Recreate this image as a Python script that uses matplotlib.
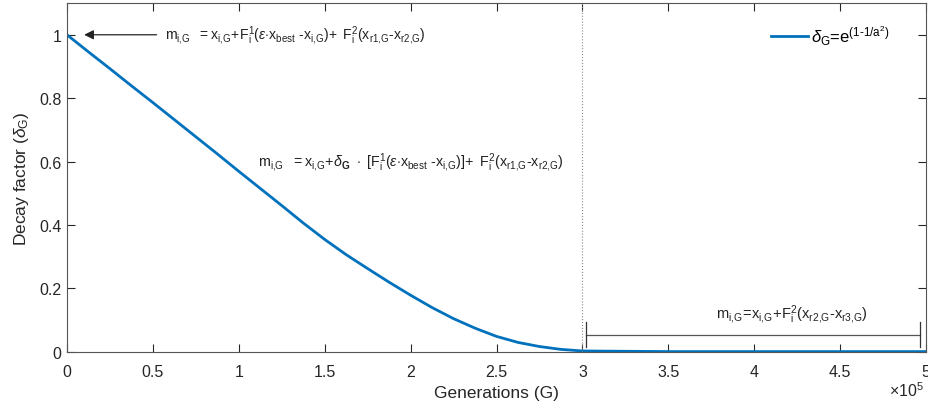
import numpy as np
import matplotlib.pyplot as plt

plt.rcParams['font.family'] = ['Liberation Sans', 'DejaVu Sans']
plt.rcParams['mathtext.fontset'] = 'custom'
plt.rcParams['mathtext.rm'] = 'Liberation Sans'
plt.rcParams['mathtext.it'] = 'Liberation Sans:italic'
plt.rcParams['mathtext.bf'] = 'Liberation Sans:bold'

# Data (generations in units of 1e5)
gen = [0, 0.125, 0.25, 0.375, 0.5, 0.625, 0.75, 0.875, 1.0, 1.125, 1.25, 1.375,
       1.5, 1.625, 1.75, 1.875, 2.0, 2.125, 2.25, 2.375, 2.5, 2.625, 2.75, 2.875,
       3.0, 3.5, 4.0, 4.5, 5.0]
decay = [1.0, 0.946, 0.893, 0.839, 0.786, 0.732, 0.678, 0.624, 0.569, 0.515, 0.461, 0.406,
         0.354, 0.306, 0.262, 0.219, 0.178, 0.139, 0.104, 0.074, 0.048, 0.029, 0.016, 0.007,
         0.002, 0.0, 0.0, 0.0, 0.0]
switch_gen = 3.0
xticks = [0, 0.5, 1, 1.5, 2, 2.5, 3, 3.5, 4, 4.5, 5]
xticklabels = ['0', '0.5', '1', '1.5', '2', '2.5', '3', '3.5', '4', '4.5', '5']
yticks = [0, 0.2, 0.4, 0.6, 0.8, 1]
yticklabels = ['0', '0.2', '0.4', '0.6', '0.8', '1']

fig = plt.figure(figsize=(9.29, 4.10), dpi=100)
ax = fig.add_axes([0.0721, 0.140, 0.9247, 0.850])

ax.plot(gen, decay, color='#0072BD', lw=2.0,
        label=r'$\delta_{\mathrm{G}}$=e$^{\mathrm{(1\text{-}1/a^2)}}$')
ax.axvline(switch_gen, color='#888888', lw=0.8, ls=':')

ax.set_xlim(0, 5)
ax.set_ylim(0, 1.1)
ax.set_xticks(xticks)
ax.set_xticklabels(xticklabels)
ax.set_yticks(yticks)
ax.set_yticklabels(yticklabels)
ax.tick_params(direction='in', top=True, right=True, length=6, width=0.8,
               labelsize=11.5, colors='#262626')
ax.tick_params(axis='x', pad=9)
ax.tick_params(axis='y', pad=4)
for s in ax.spines.values():
    s.set_color('#555555')
    s.set_linewidth(0.8)

ax.set_xlabel('Generations (G)', fontsize=12.5, color='#262626', labelpad=4)
ax.set_ylabel(r'Decay factor ($\delta_{\mathrm{G}}$)', fontsize=12.5, color='#262626', labelpad=6)
fig.text(0.995, 0.048, r'$\times\mathrm{10^5}$', fontsize=11.5, color='#262626',
         ha='right', va='center')

# annotations
eq1 = (r'$\mathrm{m_{i{,}G}\ \ = x_{i{,}G}\!+\!F_i^1(}\epsilon\mathrm{\cdot x_{best}\ \text{-}x_{i{,}G})\!+\ '
       r'F_i^2(x_{r1{,}G}\text{-}x_{r2{,}G})}$')
eq2 = (r'$\mathrm{m_{i{,}G}\ \ = x_{i{,}G}\!+\!}\delta_{\mathbf{G}}\mathrm{\ \cdot\ [F_i^1(}\epsilon'
       r'\mathrm{\cdot x_{best}\ \text{-}x_{i{,}G})]\!+\ F_i^2(x_{r1{,}G}\text{-}x_{r2{,}G})}$')
eq3 = r'$\mathrm{m_{i{,}G}\!=\!x_{i{,}G}\!+\!F_i^2(x_{r2{,}G}\text{-}x_{r3{,}G})}$'

ax.annotate(eq1, xy=(0.1, 1.0), xytext=(0.57, 1.0), fontsize=10.1, color='#222222',
            va='center', ha='left',
            arrowprops=dict(arrowstyle='-|>', color='#222222', lw=0.9, shrinkA=4, shrinkB=0,
                            mutation_scale=14))
ax.text(1.11, 0.60, eq2, fontsize=10.3, color='#222222', va='center', ha='left')
ax.text(4.22, 0.083, eq3, fontsize=10.5, color='#222222', va='bottom', ha='center')

# bracket showing last phase
bx0, bx1, by = 3.02, 4.965, 0.052
ax.plot([bx0, bx1], [by, by], color='#555555', lw=0.9)
ax.plot([bx0, bx0], [0.014, 0.094], color='#333333', lw=0.9)
ax.plot([bx1, bx1], [0.014, 0.094], color='#333333', lw=0.9)

leg = ax.legend(loc='upper right', bbox_to_anchor=(0.975, 0.985), frameon=False,
                fontsize=12, handlelength=2.2, handletextpad=0.2)

fig.savefig('out.png', dpi=100)
